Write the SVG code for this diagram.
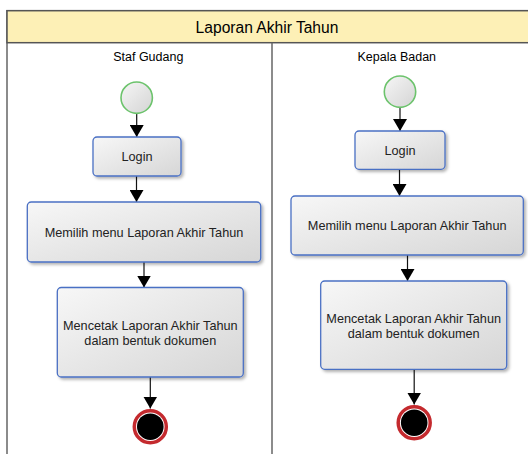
<svg xmlns="http://www.w3.org/2000/svg" width="528" height="454" viewBox="0 0 528 454">
<style>
.lane{fill:#ffffff;stroke:#666666;stroke-width:1.5}
.hdr{fill:#fdf0b6;stroke:#555555;stroke-width:1.5}
.title{font-family:"Liberation Sans",Arial,sans-serif;font-size:15.6px;fill:#000;text-anchor:middle}
.lbl{font-family:"Liberation Sans",Arial,sans-serif;font-size:12.5px;fill:#000;text-anchor:middle}
.act{fill:url(#gBox);stroke:#4a70c4;stroke-width:1.3;filter:url(#sh)}
.txt{font-family:"Liberation Sans",Arial,sans-serif;font-size:12.7px;fill:#222;text-anchor:middle}
.start{fill:url(#gStart);stroke:#6cc36c;stroke-width:1.6}
.endo{fill:#ffffff;stroke:#c42a2e;stroke-width:3.5}
.endi{fill:#000000}
.edge{stroke:#111;stroke-width:1.2;fill:none;marker-end:url(#arr)}
</style>
<defs>
<linearGradient id="gBox" x1="0" y1="0" x2="1" y2="1">
<stop offset="0" stop-color="#f7f7f7"/>
<stop offset="1" stop-color="#d6d6d6"/>
</linearGradient>
<linearGradient id="gStart" x1="0" y1="0" x2="1" y2="1">
<stop offset="0" stop-color="#f6f6f6"/>
<stop offset="1" stop-color="#d4d4d4"/>
</linearGradient>
<filter id="sh" x="-10%" y="-10%" width="130%" height="140%">
<feDropShadow dx="2" dy="2" stdDeviation="1.5" flood-color="#000" flood-opacity="0.3"/>
</filter>
<marker id="arr" viewBox="0 0 12 14" refX="12" refY="7" markerWidth="12" markerHeight="14" markerUnits="userSpaceOnUse" orient="auto">
<path d="M0,0 L12,7 L0,14 Z" fill="#000"/>
</marker>
</defs>
<g id="pool">
<rect class="lane" x="7" y="10.7" width="540" height="460"/>
<rect class="hdr" x="7" y="10.7" width="540" height="32"/>
<line x1="272" y1="42.7" x2="272" y2="460" stroke="#666" stroke-width="1.5"/>
<text class="title" x="267" y="32.5">Laporan Akhir Tahun</text>
<text class="lbl" x="148.3" y="61">Staf Gudang</text>
<text class="lbl" x="396.8" y="61">Kepala Badan</text>
</g>
<g id="connectors">
<line class="edge" x1="136.7" y1="113.4" x2="136.7" y2="137"/>
<line class="edge" x1="136.5" y1="176" x2="136.5" y2="202"/>
<line class="edge" x1="144" y1="262" x2="144" y2="287.5"/>
<line class="edge" x1="150.3" y1="377" x2="150.3" y2="408.5"/>
<line class="edge" x1="400" y1="107.4" x2="400" y2="131"/>
<line class="edge" x1="399.5" y1="169.3" x2="399.5" y2="196"/>
<line class="edge" x1="407.5" y1="255" x2="407.5" y2="281"/>
<line class="edge" x1="414.2" y1="369.3" x2="414.2" y2="404.5"/>
</g>
<g id="start1"><circle class="start" cx="136.7" cy="97.7" r="15.7"/></g>
<g id="login1"><rect class="act" x="93" y="137" width="88" height="39" rx="4"/><text class="txt" x="137" y="161">Login</text></g>
<g id="menu1"><rect class="act" x="27.3" y="202" width="233.4" height="60" rx="4"/><text class="txt" x="144" y="236.8">Memilih menu Laporan Akhir Tahun</text></g>
<g id="cetak1"><rect class="act" x="57.3" y="287.5" width="186" height="89.5" rx="4"/><text class="txt" x="150.3" y="330">Mencetak Laporan Akhir Tahun</text><text class="txt" x="150.3" y="345.4">dalam bentuk dokumen</text></g>
<g id="end1"><circle class="endo" cx="150.3" cy="426.7" r="16"/><circle class="endi" cx="150.3" cy="426.7" r="13.3"/></g>
<g id="start2"><circle class="start" cx="400" cy="91.7" r="15.7"/></g>
<g id="login2"><rect class="act" x="355" y="131" width="90" height="38.3" rx="4"/><text class="txt" x="400" y="154.7">Login</text></g>
<g id="menu2"><rect class="act" x="291" y="196" width="232.3" height="59" rx="4"/><text class="txt" x="407.2" y="230.2">Memilih menu Laporan Akhir Tahun</text></g>
<g id="cetak2"><rect class="act" x="320.7" y="281" width="186" height="88.3" rx="4"/><text class="txt" x="413.7" y="322.8">Mencetak Laporan Akhir Tahun</text><text class="txt" x="413.7" y="338.4">dalam bentuk dokumen</text></g>
<g id="end2"><circle class="endo" cx="414.2" cy="422.7" r="16"/><circle class="endi" cx="414.2" cy="422.7" r="13.3"/></g>
</svg>
